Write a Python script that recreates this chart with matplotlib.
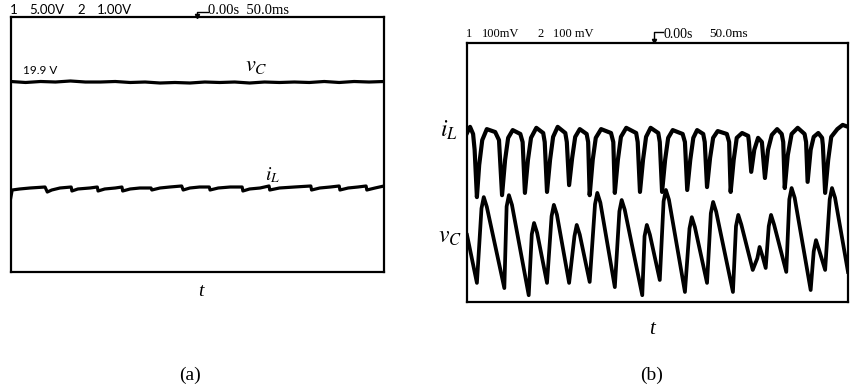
import matplotlib
matplotlib.use("Agg")
import matplotlib.pyplot as plt
from matplotlib.lines import Line2D

plt.rcParams['mathtext.fontset'] = 'stix'

# ---- data (read off the scope screens) ----
# (a) 50 ms/div, values in screen divisions from centre
vc_a_t = [0, 20, 40, 60, 80, 100, 120, 140, 160, 180, 200, 220, 240, 260,
          280, 300, 320, 340, 360, 380, 400, 420, 440, 460, 480, 500]
vc_a = [1.967, 1.936, 1.967, 1.951, 1.983, 1.951, 1.951, 1.967, 1.936, 1.951,
        1.920, 1.936, 1.920, 1.951, 1.936, 1.951, 1.920, 1.951, 1.936, 1.951,
        1.936, 1.967, 1.936, 1.967, 1.951, 1.967]

il_a_t = [0, 2, 12, 26, 46, 49, 55, 66, 81, 82, 90, 106, 116, 117, 126, 140,
          149, 150, 160, 173, 188, 189, 200, 213, 229, 231, 240, 253, 266, 267,
          278, 294, 310, 311, 320, 334, 346, 347, 360, 380, 402, 403, 414, 428,
          440, 441, 452, 465, 476, 477, 488, 500]
il_a = [-1.69, -1.437, -1.405, -1.374, -1.343, -1.500, -1.437, -1.374, -1.343,
        -1.468, -1.405, -1.374, -1.343, -1.468, -1.405, -1.374, -1.343, -1.468,
        -1.405, -1.374, -1.374, -1.437, -1.374, -1.343, -1.311, -1.437, -1.374,
        -1.343, -1.343, -1.437, -1.374, -1.343, -1.343, -1.468, -1.405, -1.374,
        -1.311, -1.437, -1.374, -1.343, -1.311, -1.437, -1.374, -1.343, -1.311,
        -1.437, -1.374, -1.343, -1.311, -1.437, -1.374, -1.311]

# (b) 50 ms/div, 100 mV/div, values in mV from centre
il_b_t = [0, 4, 8, 10, 13, 16, 20, 26, 37, 42, 46, 50, 54, 60, 70, 73, 76, 80,
          84, 91, 100, 102, 105, 109, 113, 119, 129, 131, 134, 138, 142, 148,
          157, 159, 161, 165, 169, 176, 189, 192, 194, 198, 202, 209, 222, 224,
          227, 231, 235, 241, 251, 253, 256, 260, 264, 270, 283, 286, 289, 293,
          297, 302, 310, 312, 315, 319, 323, 329, 341, 344, 346, 350, 354, 361,
          369, 370, 373, 377, 382, 387, 391, 395, 400, 407, 413, 415, 417, 421,
          426, 434, 443, 445, 447, 451, 455, 461, 466, 467, 470, 474, 478, 486,
          493, 500]
il_b = [122, 141, 119, 70, -76, 23, 100, 134, 125, 100, -70, 39, 107, 131, 119,
        94, -63, 39, 107, 138, 122, 94, -60, 39, 110, 141, 122, 94, -39, 45,
        110, 134, 119, 94, -70, 39, 107, 134, 122, 94, -63, 39, 110, 138, 122,
        94, -60, 39, 110, 138, 122, 94, -60, 39, 107, 131, 119, 94, -54, 39,
        107, 131, 119, 94, -45, 45, 107, 128, 119, 94, -60, 39, 107, 122, 113,
        94, 2, 70, 107, 94, -17, 70, 116, 134, 119, 94, -48, 54, 119, 138, 119,
        94, -29, 70, 110, 122, 107, 85, -63, 39, 110, 134, 147, 141]

vc_b_t = [0, 13, 19, 22, 26, 49, 52, 55, 59, 81, 85, 88, 92, 105, 111, 114,
          118, 134, 141, 144, 148, 161, 168, 171, 175, 194, 200, 203, 207, 230,
          233, 236, 240, 253, 258, 261, 265, 286, 292, 295, 299, 315, 320, 323,
          327, 349, 353, 356, 360, 375, 381, 384, 388, 392, 396, 399, 403, 419,
          423, 426, 430, 451, 455, 458, 462, 470, 476, 479, 483, 500]
vc_b = [-193, -341, -111, -76, -106, -357, -105, -70, -100, -379, -191, -156,
        -186, -341, -135, -100, -130, -341, -197, -162, -192, -338, -98, -63,
        -93, -354, -120, -85, -115, -379, -197, -162, -192, -332, -89, -54,
        -84, -369, -173, -138, -168, -341, -126, -91, -121, -369, -166, -131,
        -161, -301, -265, -230, -260, -295, -166, -131, -161, -307, -83, -48,
        -78, -363, -244, -209, -239, -301, -83, -48, -78, -307]

W, H = 859, 391
fig = plt.figure(figsize=(W / 100, H / 100), dpi=100)


def fx(x):
    return x / W


def fy(y):
    return 1 - y / H


def box(l, t, r, b):
    return [fx(l), fy(b), fx(r) - fx(l), fy(t) - fy(b)]


def style(ax):
    ax.set_xticks([])
    ax.set_yticks([])
    for s in ax.spines.values():
        s.set_linewidth(1.6)
        s.set_color('black')


def trigger(x, y0, y1, x1):
    fig.add_artist(Line2D([fx(x1), fx(x), fx(x)], [fy(y0), fy(y0), fy(y1)],
                          transform=fig.transFigure, color='black', lw=1.0))
    fig.add_artist(Line2D([fx(x)], [fy(y1)], transform=fig.transFigure,
                          marker='v', ms=3, color='black', lw=0))


sans = 'Lato'
serif = 'Liberation Serif'

# ---- panel (a) ----
axa = fig.add_axes(box(10.7, 16.7, 384, 271.7))
axa.plot(vc_a_t, vc_a, color='black', lw=2.3, solid_joinstyle='round')
axa.plot(il_a_t, il_a, color='black', lw=2.3, solid_joinstyle='round')
axa.set_xlim(0, 500)
axa.set_ylim(-4, 4)
style(axa)

fig.text(fx(10), fy(10), '1', fontsize=9.5, family=sans, va='center')
fig.text(fx(29), fy(10), '5.00V', fontsize=9.5, family=sans, va='center')
fig.text(fx(77), fy(10), '2', fontsize=9.5, family=sans, va='center')
fig.text(fx(97), fy(10), '1.00V', fontsize=9.5, family=sans, va='center')
trigger(197, 11.5, 16, 208)
fig.text(fx(208), fy(11), '0.00s  50.0ms', fontsize=10.5, family=serif, va='center')
fig.text(fx(23), fy(70), '19.9 V', fontsize=8.5, family=sans, va='center')
fig.text(fx(256), fy(66), r'$v_C$', fontsize=16, ha='center', va='center')
fig.text(fx(273), fy(175), r'$i_L$', fontsize=14, ha='center', va='center')
fig.text(fx(201), fy(291), 't', fontsize=14, family=serif, style='italic',
         ha='center', va='center')
fig.text(fx(190), fy(375), '(a)', fontsize=14, family=serif, ha='center', va='center')

# ---- panel (b) ----
axb = fig.add_axes(box(467, 43, 848, 302))
axb.plot(il_b_t, il_b, color='black', lw=3.0, solid_joinstyle='round')
axb.plot(vc_b_t, vc_b, color='black', lw=2.7, solid_joinstyle='round')
axb.set_xlim(0, 500)
axb.set_ylim(-400, 400)
style(axb)

fig.text(fx(466), fy(34), '1', fontsize=9, family=serif, va='center')
fig.text(fx(482), fy(34), '100mV', fontsize=9, family=serif, va='center')
fig.text(fx(537), fy(34), '2', fontsize=9, family=serif, va='center')
fig.text(fx(553), fy(34), '100 mV', fontsize=9, family=serif, va='center')
trigger(654, 32, 41, 663)
fig.text(fx(663), fy(34), '0.00s', fontsize=10, family=serif, va='center')
fig.text(fx(709), fy(34), '50.0ms', fontsize=9.5, family=serif, va='center')
fig.text(fx(449), fy(130), r'$i_L$', fontsize=17, ha='center', va='center')
fig.text(fx(450), fy(236), r'$v_C$', fontsize=17, ha='center', va='center')
fig.text(fx(652), fy(330), 't', fontsize=15, family=serif, style='italic',
         ha='center', va='center')
fig.text(fx(652), fy(375), '(b)', fontsize=14, family=serif, ha='center', va='center')

fig.savefig('out.png', dpi=100)
